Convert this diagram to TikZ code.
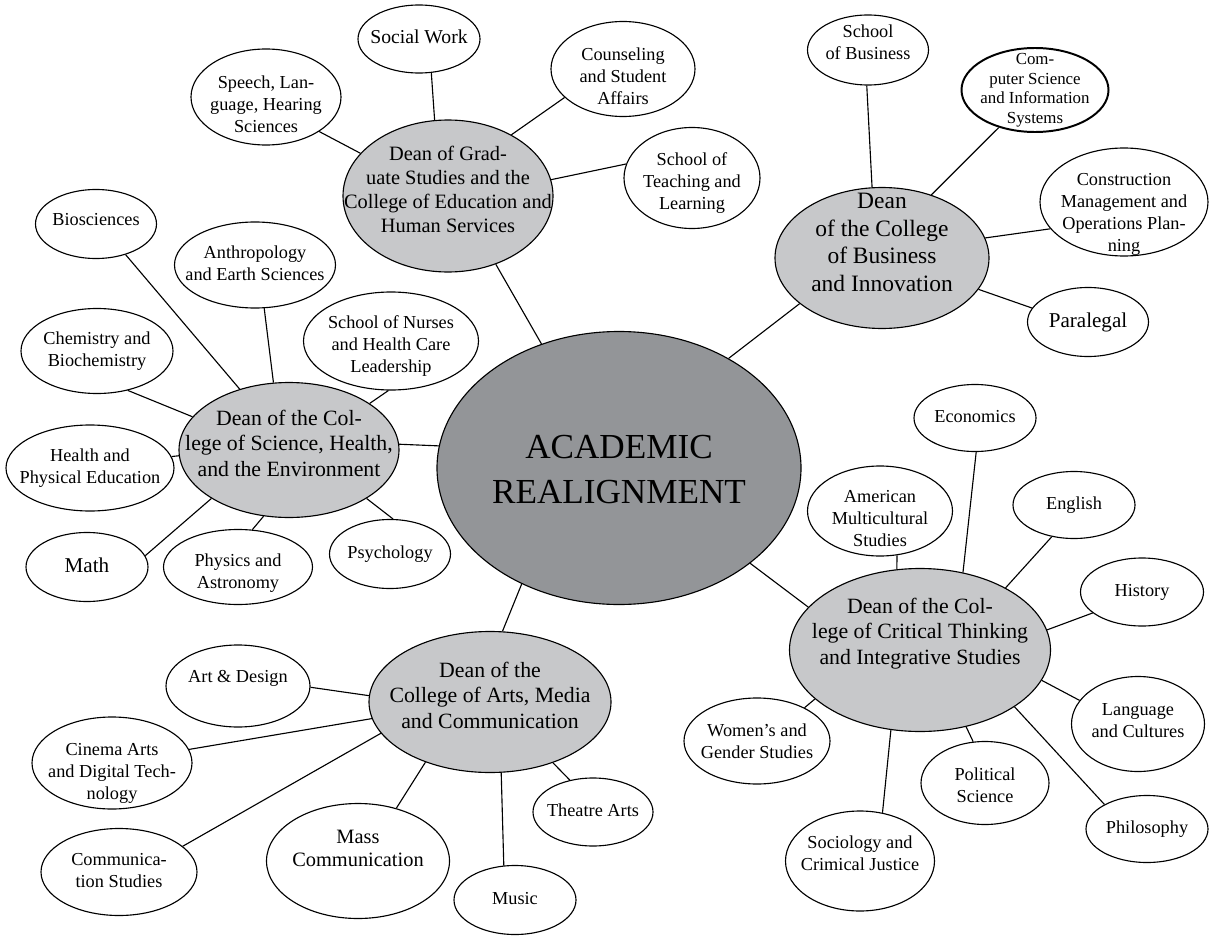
\documentclass[tikz,border=0pt]{standalone}
\usepackage{fontspec}
\setmainfont{Liberation Serif}
\usetikzlibrary{shapes.geometric}
\definecolor{arhub}{HTML}{939598}
\definecolor{ardean}{HTML}{C7C8CA}
% centred lines that do not stretch the oval
\newcommand{\ovaltext}[2][0pt]{\makebox[0pt]{\smash{\raisebox{\dimexpr#1-0.25em\relax}{\begin{tabular}{@{}c@{}}#2\end{tabular}}}}}

\begin{document}
\begin{tikzpicture}[x=0.025cm, y=-0.025cm, line width=0.8pt,
    oval/.style 2 args={ellipse, draw, fill=white, inner sep=0pt,
      minimum width=#1*0.025cm, minimum height=#2*0.025cm,
      font=\fontsize{13}{15.6}\selectfont},
    dean/.style={fill=ardean, font=\fontsize{15.5}{18.2}\selectfont},
    hub/.style={fill=arhub, font=\fontsize{25}{32}\selectfont}]
  \useasboundingbox (0,0) rectangle (1224,946);
  % centre
  \node[oval={364}{273}, hub] (hub) at (619,468) {\ovaltext[-0.1cm]{ACADEMIC\\REALIGNMENT}};
  % deans
  \node[oval={210}{152}, dean, font=\fontsize{14.5}{17}\selectfont] (grad) at (448,196) {\ovaltext[0.1cm]{Dean of Grad-\\uate Studies and the\\College of Education and\\Human Services}};
  \node[oval={214}{141}, dean, font=\fontsize{16.7}{19.7}\selectfont] (busi) at (882,258) {\ovaltext[0.33cm]{Dean\\of the College\\of Business\\and Innovation}};
  \node[oval={220}{135}, dean] (sci) at (289,450) {\ovaltext[0.12cm]{Dean of the Col-\\lege of Science, Health,\\and the Environment}};
  \node[oval={242}{141}, dean] (arts) at (490,702) {\ovaltext[0.12cm]{Dean of the\\College of Arts, Media\\and Communication}};
  \node[oval={261}{163}, dean] (crit) at (920,650) {\ovaltext[0.42cm]{Dean of the Col-\\lege of Critical Thinking\\and Integrative Studies}};
  % graduate studies
  \node[oval={122}{68}, font=\fontsize{14}{16}\selectfont] (social) at (419,39) {\ovaltext{Social Work}};
  \node[oval={150}{96}] (speech) at (266,97) {\ovaltext[-0.22cm]{Speech, Lan-\\guage, Hearing\\Sciences}};
  \node[oval={144}{95}] (counsel) at (623,69) {\ovaltext[-0.22cm]{Counseling\\and Student\\Affairs}};
  \node[oval={136}{101}] (teach) at (692,178) {\ovaltext[-0.12cm]{School of\\Teaching and\\Learning}};
  % business
  \node[oval={121}{70}] (sob) at (868,50) {\ovaltext[0.15cm]{School\\of Business}};
  \node[oval={147}{84}, line width=1.4pt, font=\fontsize{12}{14.2}\selectfont] (csis) at (1035,90) {\ovaltext{Com-\\puter Science\\and Information\\Systems}};
  \node[oval={168}{108}] (constr) at (1124,202) {\ovaltext[-0.3cm]{Construction\\Management and\\Operations Plan-\\ning}};
  \node[oval={121}{69}, font=\fontsize{15}{18}\selectfont] (paral) at (1088,322) {\ovaltext{Paralegal}};
  % science
  \node[oval={121}{69}] (bio) at (96,224) {\ovaltext[0.08cm]{Biosciences}};
  \node[oval={161}{86}] (anthro) at (255,265) {\ovaltext{Anthropology\\and Earth Sciences}};
  \node[oval={152}{85}] (chem) at (97,351) {\ovaltext{Chemistry and\\Biochemistry}};
  \node[oval={175}{98}] (nurse) at (391,341) {\ovaltext[-0.12cm]{School of Nurses\\and Health Care\\Leadership}};
  \node[oval={168}{86}] (hpe) at (90,468) {\ovaltext{Health and\\Physical Education}};
  \node[oval={122}{69}, font=\fontsize{15}{18}\selectfont] (math) at (87,567) {\ovaltext{Math}};
  \node[oval={149}{75}] (phys) at (238,567) {\ovaltext[-0.15cm]{Physics and\\Astronomy}};
  \node[oval={121}{69}] (psych) at (390,554) {\ovaltext{Psychology}};
  % arts
  \node[oval={144}{82}] (artd) at (238,686) {\ovaltext[0.2cm]{Art \& Design}};
  \node[oval={160}{92}] (cinema) at (112,763) {\ovaltext[-0.25cm]{Cinema Arts\\and Digital Tech-\\nology}};
  \node[oval={156}{87}] (commst) at (119,872) {\ovaltext{Communica-\\tion Studies}};
  \node[oval={183}{115}, font=\fontsize{14.5}{17}\selectfont] (mass) at (358,861) {\ovaltext[0.27cm]{Mass\\Communication}};
  \node[oval={122}{69}] (music) at (515,900) {\ovaltext{Music}};
  \node[oval={120}{68}] (theatre) at (593,812) {\ovaltext{Theatre Arts}};
  % critical thinking
  \node[oval={122}{67}] (econ) at (975,418) {\ovaltext{Economics}};
  \node[oval={145}{90}] (amer) at (880,511) {\ovaltext[-0.22cm]{American\\Multicultural\\Studies}};
  \node[oval={122}{67}] (engl) at (1074,505) {\ovaltext{English}};
  \node[oval={123}{68}] (hist) at (1142,592) {\ovaltext{History}};
  \node[oval={133}{95}] (lang) at (1138,724) {\ovaltext[0.05cm]{Language\\and Cultures}};
  \node[oval={122}{67}] (philo) at (1147,829) {\ovaltext{Philosophy}};
  \node[oval={128}{83}] (polit) at (985,783) {\ovaltext[-0.1cm]{Political\\Science}};
  \node[oval={149}{100}] (socio) at (860,861) {\ovaltext[0.15cm]{Sociology and\\Crimical Justice}};
  \node[oval={146}{86}] (women) at (757,741) {\ovaltext[-0.05cm]{Women’s and\\Gender Studies}};
  % connectors
  \draw (hub.122) -- (grad.-55) (hub.45) -- (busi.209) (hub.173) -- (sci.3)
        (hub.230) -- (arts.80) (hub.-36) -- (crit.159);
  \draw (grad.100) -- (social.-70) (grad.154) -- (speech.-33)
        (grad.44) -- (counsel.206) (grad.9) -- (teach.168);
  \draw (busi.98) -- (sob.268) (busi.52) -- (csis.226)
        (busi.11) -- (constr.200) (busi.-18) -- (paral.166);
  \draw (sci.129) -- (bio.-46) (sci.103) -- (anthro.-78) (sci.161) -- (chem.-52)
        (sci.30) -- (nurse.267) (sci.183) -- (hpe.8) (sci.212) -- (math.11)
        (sci.249) -- (phys.69) (sci.-32) -- (psych.85);
  \draw (arts.177) -- (artd.-1) (arts.188) -- (cinema.10) (arts.196) -- (commst.22)
        (arts.223) -- (mass.54) (arts.-81) -- (music.108) (arts.-44) -- (theatre.126);
  \draw (crit.61) -- (econ.-88) (crit.106) -- (amer.-69) (crit.36) -- (engl.235)
        (crit.9) -- (hist.203) (crit.-14) -- (lang.158) (crit.-31) -- (philo.150)
        (crit.-59) -- (polit.106) (crit.250) -- (socio.65) (crit.205) -- (women.35);
\end{tikzpicture}
\end{document}
